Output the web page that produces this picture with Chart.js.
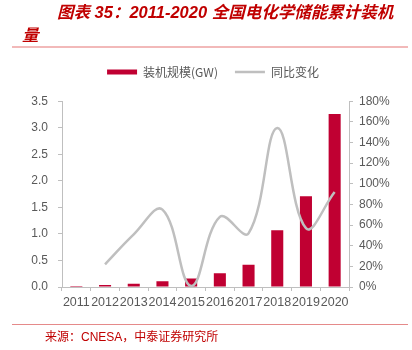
<!DOCTYPE html>
<html>
<head>
<meta charset="utf-8">
<script src="https://cdn.jsdelivr.net/npm/chart.js@4/dist/chart.umd.min.js"></script>
<style>
  html, body { margin: 0; padding: 0; background: #fff; }
  #wrap { width: 412px; height: 350px; }
</style>
</head>
<body>
<div id="wrap"><canvas id="myChart" width="412" height="350"></canvas></div>
<script>
// data
const years = ['2011', '2012', '2013', '2014', '2015', '2016', '2017', '2018', '2019', '2020'];
const capacityGW = [0.02, 0.04, 0.06, 0.11, 0.16, 0.26, 0.42, 1.07, 1.71, 3.26];
const yoyPct = [null, 22, 51, 75, 1, 68, 52, 154, 57, 92];
const leftTicks = [0, 0.5, 1.0, 1.5, 2.0, 2.5, 3.0, 3.5];
const rightTicks = [0, 20, 40, 60, 80, 100, 120, 140, 160, 180];

const RED = '#C00032';
const GREY_LINE = '#BFBFBF';
const TICK_GREY = '#595959';
const AXIS_GREY = '#BFBFBF';

// title, rules and source note around the chart
const decorations = {
  id: 'decorations',
  afterDraw(chart) {
    const ctx = chart.ctx;
    ctx.save();
    ctx.fillStyle = '#C00000';
    ctx.textBaseline = 'middle';
    ctx.font = 'italic bold 16.5px "Liberation Sans", "Noto Sans CJK SC", sans-serif';
    ctx.fillText('图表 35：2011-2020 全国电化学储能累计装机', 57, 13);
    ctx.fillText('量', 22, 36);

    ctx.strokeStyle = '#F2B9B9';
    ctx.lineWidth = 2;
    ctx.beginPath();
    ctx.moveTo(12, 47);
    ctx.lineTo(408, 47);
    ctx.stroke();

    ctx.strokeStyle = '#E58A8A';
    ctx.lineWidth = 1;
    ctx.beginPath();
    ctx.moveTo(12, 324.5);
    ctx.lineTo(408, 324.5);
    ctx.stroke();

    ctx.font = '12px "Liberation Sans", "Noto Sans CJK SC", sans-serif';
    ctx.fillStyle = '#C00000';
    ctx.fillText('来源：CNESA，中泰证券研究所', 45, 338);
    ctx.restore();
  }
};

const ctx = document.getElementById('myChart').getContext('2d');
new Chart(ctx, {
  type: 'bar',
  data: {
    labels: years,
    datasets: [{
      type: 'bar',
      label: '装机规模(GW)',
      data: capacityGW,
      backgroundColor: RED,
      borderWidth: 0,
      barPercentage: 0.42,
      categoryPercentage: 1,
      yAxisID: 'y',
      order: 2
    }, {
      type: 'line',
      label: '同比变化',
      data: yoyPct,
      borderColor: GREY_LINE,
      backgroundColor: GREY_LINE,
      borderWidth: 2.5,
      pointRadius: 0,
      tension: 0.4,
      yAxisID: 'y1',
      order: 1
    }]
  },
  options: {
    responsive: false,
    animation: false,
    devicePixelRatio: 1,
    layout: {
      padding: { top: 49, bottom: 36, left: 14, right: 0 }
    },
    plugins: {
      title: { display: false },
      // empty spacer between legend and plot
      subtitle: {
        display: true,
        text: '',
        weight: 500,
        font: { size: 1 },
        padding: { top: 0, bottom: 12 }
      },
      tooltip: { enabled: false },
      legend: {
        display: true,
        position: 'top',
        labels: {
          usePointStyle: true,
          pointStyleWidth: 30,
          boxHeight: 5,
          padding: 17,
          color: TICK_GREY,
          font: { size: 12, family: '"Noto Sans CJK SC", "Liberation Sans", sans-serif' },
          sort: (a, b) => a.datasetIndex - b.datasetIndex,
          generateLabels(chart) {
            const items = Chart.defaults.plugins.legend.labels.generateLabels(chart);
            items.forEach(item => {
              if (item.datasetIndex === 0) {
                item.pointStyle = 'rect';
                item.lineWidth = 0;
              } else {
                item.pointStyle = 'line';
                item.strokeStyle = GREY_LINE;
                item.lineWidth = 2.5;
              }
            });
            return items;
          }
        }
      }
    },
    scales: {
      x: {
        offset: true,
        grid: {
          offset: true,
          drawOnChartArea: false,
          drawTicks: true,
          tickLength: 4,
          color: AXIS_GREY
        },
        border: { color: AXIS_GREY, width: 1 },
        ticks: {
          color: TICK_GREY,
          font: { size: 12.5, family: '"Liberation Sans", Arial, sans-serif' },
          autoSkip: false,
          maxRotation: 0,
          minRotation: 0,
          padding: 4
        }
      },
      y: {
        position: 'left',
        min: 0,
        max: 3.5,
        afterFit(scale) { scale.width = 48; },
        afterBuildTicks(scale) { scale.ticks = leftTicks.map(v => ({ value: v })); },
        grid: {
          drawOnChartArea: false,
          drawTicks: true,
          tickLength: 4,
          color: AXIS_GREY
        },
        border: { color: AXIS_GREY, width: 1 },
        ticks: {
          color: TICK_GREY,
          font: { size: 12, family: '"Liberation Sans", Arial, sans-serif' },
          padding: 10,
          callback: v => Number(v).toFixed(1)
        }
      },
      y1: {
        position: 'right',
        min: 0,
        max: 180,
        afterFit(scale) { scale.width = 63; },
        afterBuildTicks(scale) { scale.ticks = rightTicks.map(v => ({ value: v })); },
        grid: {
          drawOnChartArea: false,
          drawTicks: true,
          tickLength: 4,
          color: AXIS_GREY
        },
        border: { color: AXIS_GREY, width: 1 },
        ticks: {
          color: TICK_GREY,
          font: { size: 12, family: '"Liberation Sans", Arial, sans-serif' },
          padding: 6,
          callback: v => v + '%'
        }
      }
    }
  },
  plugins: [decorations]
});
</script>
</body>
</html>
